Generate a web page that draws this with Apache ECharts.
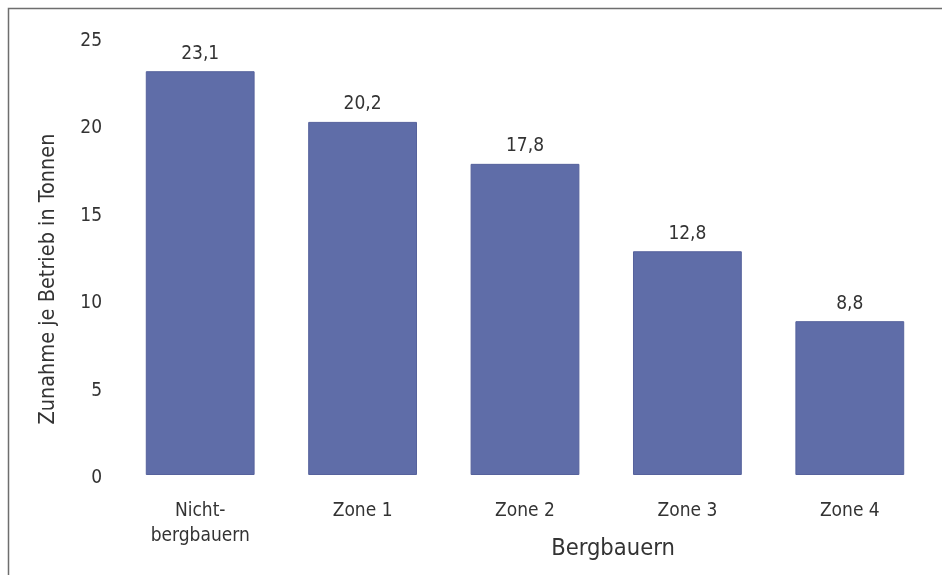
<!DOCTYPE html>
<html>
<head>
<meta charset="utf-8">
<script src="https://cdn.jsdelivr.net/npm/echarts@6/dist/echarts.min.js"></script>
<style>
  html, body { margin: 0; padding: 0; background: #ffffff; }
  #chart { width: 942px; height: 575px; }
</style>
</head>
<body>
<div id="chart"></div>
<script>
// Categories along the x axis
const categories = ['Nicht-\nbergbauern', 'Zone 1', 'Zone 2', 'Zone 3', 'Zone 4'];
// Increase per farm in tonnes
const values = [23.1, 20.2, 17.8, 12.8, 8.8];
// Y axis range and tick step
const yMin = 0;
const yMax = 25;
const yStep = 5;
// Axis titles
const xTitle = 'Bergbauern';
const yTitle = 'Zunahme je Betrieb in Tonnen';

const FONT = '"DejaVu Sans Condensed", "DejaVu Sans", sans-serif';
const TEXT = '#333333';

const chart = echarts.init(document.getElementById('chart'));

chart.setOption({
  backgroundColor: '#ffffff',
  animation: false,
  grid: { left: 119, right: 11, top: 38, bottom: 100 },
  graphic: [
    {
      type: 'rect',
      shape: { x: 8.5, y: 8.5, width: 1000, height: 1000 },
      style: { fill: 'none', stroke: '#6e6e6e', lineWidth: 1.5 },
      silent: true
    },
    {
      type: 'text',
      x: 613,
      y: 549,
      style: {
        text: xTitle, font: '23.5px ' + FONT, fill: TEXT,
        align: 'center', verticalAlign: 'middle'
      }
    },
    {
      type: 'text',
      x: 48,
      y: 279,
      rotation: Math.PI / 2,
      style: {
        text: yTitle, font: '21.5px ' + FONT, fill: TEXT,
        align: 'center', verticalAlign: 'middle'
      }
    }
  ],
  xAxis: {
    type: 'category',
    data: categories,
    axisLine: { show: false },
    axisTick: { show: false },
    axisLabel: {
      margin: 24,
      fontFamily: FONT,
      fontSize: 19,
      color: TEXT,
      lineHeight: 25
    }
  },
  yAxis: {
    type: 'value',
    min: yMin,
    max: yMax,
    interval: yStep,
    axisLine: { show: false },
    axisTick: { show: false },
    splitLine: { show: false },
    axisLabel: {
      margin: 17,
      formatter: v => '{t|' + v + '}',
      rich: {
        t: {
          fontFamily: FONT,
          fontSize: 19,
          color: TEXT,
          padding: [6, 0, 0, 0]
        }
      }
    }
  },
  series: [{
    type: 'bar',
    data: values,
    barWidth: '67%',
    itemStyle: { color: '#5f6da8', borderColor: '#56629c', borderWidth: 1 },
    label: {
      show: true,
      position: 'top',
      distance: 8,
      fontFamily: FONT,
      fontSize: 19,
      color: TEXT,
      formatter: p => String(p.value).replace('.', ',')
    }
  }]
});
</script>
</body>
</html>
